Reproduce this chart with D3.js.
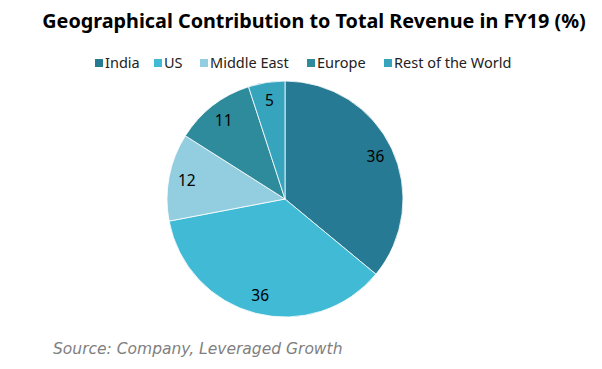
<!DOCTYPE html>
<html>
<head>
<meta charset="utf-8">
<script src="https://cdn.jsdelivr.net/npm/d3@7"></script>
<style>
body { margin:0; background:#fff; }
svg { display:block; font-family:"Noto Sans", "Open Sans", sans-serif; }
</style>
</head>
<body>
<svg id="chart"></svg>
<script>
var regions = ["India", "US", "Middle East", "Europe", "Rest of the World"]
var shares = [36, 36, 12, 11, 5]
var colours = ["#277A93", "#40BAD5", "#92CEE0", "#2E8B9B", "#37A4BE"]

var width = 602
var height = 369

var svg = d3.select("#chart")
    .attr("width", width)
    .attr("height", height)

// title
svg.append("text")
    .attr("x", 314)
    .attr("y", 28)
    .attr("text-anchor", "middle")
    .style("font-size", "19.8px")
    .style("font-weight", "bold")
    .style("fill", "#000")
    .text("Geographical Contribution to Total Revenue in FY19 (%)")

// legend
var legendX = [95, 154, 200, 307, 384]
var legend = svg.append("g")
var items = legend.selectAll("g")
    .data(regions)
    .enter()
    .append("g")
    .attr("transform", function(d, i) { return "translate(" + legendX[i] + ",63)" })
items.append("rect")
    .attr("x", 0)
    .attr("y", -4)
    .attr("width", 8)
    .attr("height", 8)
    .style("fill", function(d, i) { return colours[i] })
items.append("text")
    .attr("x", 10)
    .attr("y", 0)
    .attr("dy", "0.36em")
    .style("font-size", "14.5px")
    .style("fill", "#222")
    .text(function(d) { return d })

// pie
var radius = 118
var pie = d3.pie().sort(null).value(function(d) { return d })
var arc = d3.arc().innerRadius(0).outerRadius(radius)
var labelArc = d3.arc().innerRadius(100).outerRadius(100)

var g = svg.append("g")
    .attr("transform", "translate(285,199)")

var slices = g.selectAll("g")
    .data(pie(shares))
    .enter()
    .append("g")

slices.append("path")
    .attr("d", arc)
    .style("fill", function(d, i) { return colours[i] })
    .style("stroke", "#fff")
    .style("stroke-width", 0.8)

slices.append("text")
    .attr("transform", function(d) { return "translate(" + labelArc.centroid(d) + ")" })
    .attr("text-anchor", "middle")
    .attr("dy", "0.36em")
    .style("font-size", "15.5px")
    .style("fill", "#000")
    .text(function(d) { return d.data })

// source
svg.append("text")
    .attr("x", 53)
    .attr("y", 354)
    .style("font-family", "'DejaVu Sans', sans-serif")
    .style("font-size", "15.5px")
    .style("font-style", "italic")
    .style("fill", "#7f7f7f")
    .text("Source: Company, Leveraged Growth")
</script>
</body>
</html>
